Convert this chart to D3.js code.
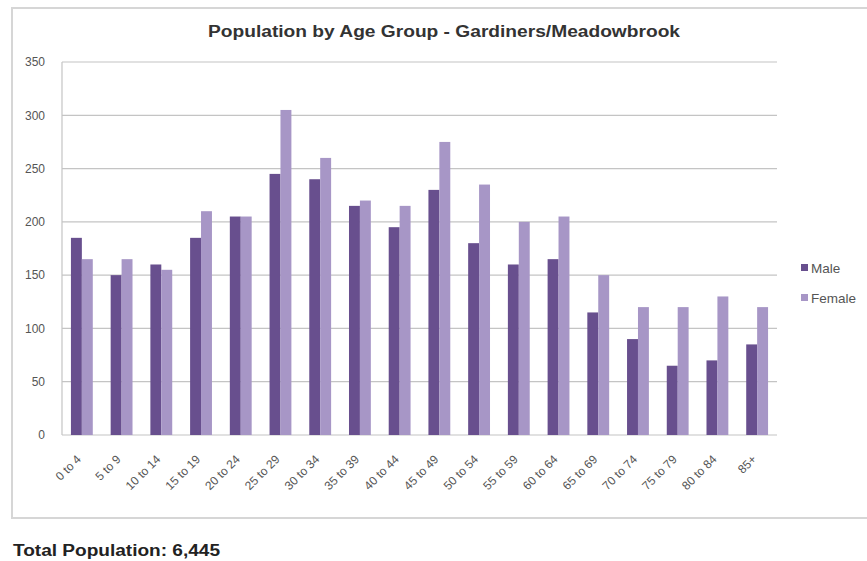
<!DOCTYPE html>
<html>
<head>
<meta charset="utf-8">
<script src="https://cdn.jsdelivr.net/npm/d3@7"></script>
<style>
  html, body { margin: 0; padding: 0; background: #fff; }
  svg { display: block; font-family: "Liberation Sans", Arial, sans-serif; }
</style>
</head>
<body>
<svg id="chart" width="867" height="561"></svg>
<script>
// Age groups and counts per sex
const ageGroups = ["0 to 4", "5 to 9", "10 to 14", "15 to 19", "20 to 24", "25 to 29",
  "30 to 34", "35 to 39", "40 to 44", "45 to 49", "50 to 54", "55 to 59", "60 to 64",
  "65 to 69", "70 to 74", "75 to 79", "80 to 84", "85+"];
const male = [185, 150, 160, 185, 205, 245, 240, 215, 195, 230, 180, 160, 165, 115, 90, 65, 70, 85];
const female = [165, 165, 155, 210, 205, 305, 260, 220, 215, 275, 235, 200, 205, 150, 120, 120, 130, 120];
const seriesNames = ["Male", "Female"];
const yTicks = [0, 50, 100, 150, 200, 250, 300, 350];

const colors = { Male: "#684f8e", Female: "#a796c6" };

const svg = d3.select("#chart");

// Chart frame
svg.append("rect")
  .attr("x", 12).attr("y", 8).attr("width", 866).attr("height", 510)
  .attr("fill", "#fff").attr("stroke", "#d6d6d6").attr("stroke-width", 2);

const plot = { left: 62, right: 777, top: 62, bottom: 435 };

const x = d3.scaleBand().domain(ageGroups).range([plot.left, plot.right]).paddingInner(0.45).paddingOuter(0.225);
const xs = d3.scaleBand().domain(seriesNames).range([0, x.bandwidth()]);
const y = d3.scaleLinear().domain([0, 350]).range([plot.bottom, plot.top]);

// Gridlines
svg.append("g").selectAll("line").data(yTicks).join("line")
  .attr("x1", plot.left).attr("x2", plot.right)
  .attr("y1", d => y(d)).attr("y2", d => y(d))
  .attr("stroke", "#c4c4c4").attr("stroke-width", 1.2);

// Left axis line
svg.append("line")
  .attr("x1", plot.left).attr("x2", plot.left)
  .attr("y1", plot.top).attr("y2", plot.bottom)
  .attr("stroke", "#c4c4c4").attr("stroke-width", 1.2);

// Y axis labels
const yAxis = d3.axisLeft(y).tickValues(yTicks).tickSize(0).tickPadding(17);
const yg = svg.append("g").attr("transform", `translate(${plot.left},0)`).call(yAxis);
yg.select(".domain").remove();
yg.selectAll("text").attr("fill", "#555").style("font-size", "12px");

// Bars
const rows = ageGroups.map((g, i) => ({ group: g, Male: male[i], Female: female[i] }));
svg.append("g").selectAll("g").data(rows).join("g")
  .attr("transform", d => `translate(${x(d.group)},0)`)
  .selectAll("rect")
  .data(d => seriesNames.map(s => ({ s, v: d[s] })))
  .join("rect")
  .attr("x", d => xs(d.s))
  .attr("width", xs.bandwidth())
  .attr("y", d => y(d.v))
  .attr("height", d => y(0) - y(d.v))
  .attr("fill", d => colors[d.s]);

// X axis labels, rotated
const xAxis = d3.axisBottom(x).tickSize(0).tickPadding(0);
const xg = svg.append("g").attr("transform", `translate(0,${plot.bottom})`).call(xAxis);
xg.select(".domain").remove();
xg.selectAll("text")
  .attr("fill", "#555")
  .style("font-size", "12px")
  .attr("text-anchor", "end")
  .attr("y", 0)
  .attr("dy", "0.35em")
  .attr("transform", "translate(-3,22) rotate(-45)");

// Title
svg.append("text")
  .attr("x", 444).attr("y", 37)
  .attr("text-anchor", "middle")
  .attr("fill", "#333")
  .attr("textLength", 472).attr("lengthAdjust", "spacingAndGlyphs")
  .style("font-size", "16px").style("font-weight", "bold")
  .text("Population by Age Group - Gardiners/Meadowbrook");

// Legend
const legend = svg.append("g").attr("transform", "translate(801,264)");
seriesNames.forEach((s, i) => {
  const row = legend.append("g").attr("transform", `translate(0,${i * 30})`);
  row.append("rect").attr("x", 0).attr("y", 0).attr("width", 7).attr("height", 7).attr("fill", colors[s]);
  row.append("text").attr("x", 10).attr("y", 8.5)
    .attr("fill", "#555").style("font-size", "13.5px").text(s);
});

// Footer total
svg.append("text")
  .attr("x", 13).attr("y", 556)
  .attr("fill", "#222")
  .attr("textLength", 207).attr("lengthAdjust", "spacingAndGlyphs")
  .style("font-size", "16px").style("font-weight", "bold")
  .text("Total Population: 6,445");
</script>
</body>
</html>
